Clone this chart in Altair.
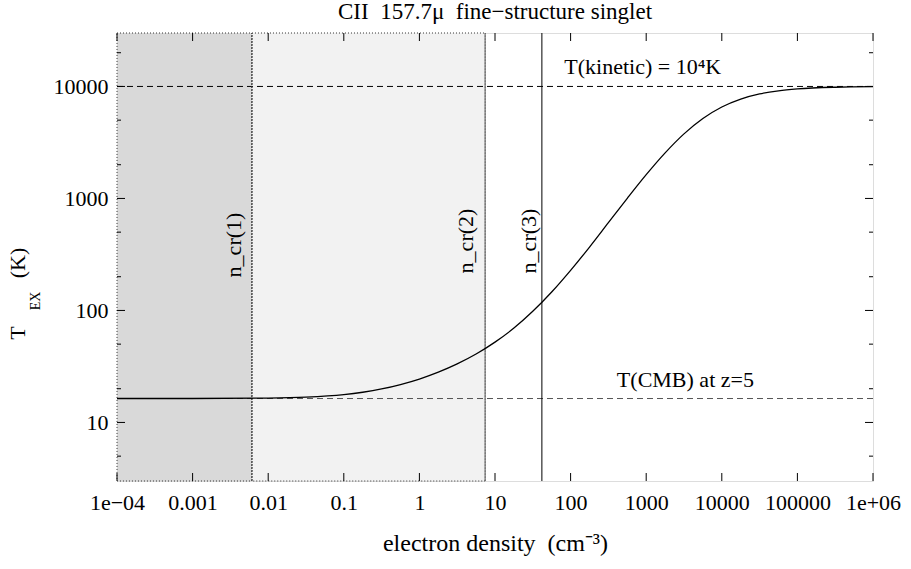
import altair as alt
import pandas as pd

# Electron density grid (cm^-3) and excitation temperature T_EX (K) of the CII 157.7 micron line
density = [1e-4, 1e-3, 1e-2, 0.0316, 0.1, 0.178, 0.316, 0.562, 1.0, 1.78, 3.16, 5.62,
           10.0, 17.8, 31.6, 56.2, 100.0, 178.0, 316.0, 562.0, 1000.0, 1780.0, 3160.0,
           5620.0, 1e4, 1.78e4, 3.16e4, 5.62e4, 1e5, 3.16e5, 1e6]
t_ex = [16.35, 16.36, 16.5, 16.8, 17.7, 18.6, 19.9, 21.8, 24.4, 28.1, 33.3, 40.8,
        52.1, 69.6, 98.2, 146.0, 228.0, 368.0, 607.0, 1002.0, 1629.0, 2551.0, 3772.0,
        5175.0, 6556.0, 7711.0, 8572.0, 9140.0, 9499.0, 9839.0, 9949.0]

# Critical densities
ncr_names = ["n_cr(1)", "n_cr(2)", "n_cr(3)"]
ncr_values = [0.0061, 7.4, 41.7]

# Reference temperatures
t_kinetic = 1e4
t_cmb = 16.35

x_domain = [1e-4, 1e6]
y_domain = [3, 30000]
x_major = [1e-4, 1e-3, 1e-2, 1e-1, 1, 10, 100, 1000, 1e4, 1e5, 1e6]
x_labels = ["1e\u221204", "0.001", "0.01", "0.1", "1", "10", "100", "1000",
            "10000", "100000", "1e+06"]
y_major = [10, 100, 1000, 10000]
y_minor = [5, 20, 50, 200, 500, 2000, 5000, 20000]

W, H = 756, 448
FONT = "Liberation Serif"

xs = alt.Scale(type="log", domain=x_domain, nice=False)
ys = alt.Scale(type="log", domain=y_domain, nice=False)

label_list = "[" + ",".join(f"'{l}'" for l in x_labels) + "]"
label_expr = f"{label_list}[round(log(datum.value) / LN10) + 4]"

curve_df = pd.DataFrame({"n": density, "t": t_ex})

# shaded density regimes
regions = pd.DataFrame({
    "x0": [x_domain[0], ncr_values[0]],
    "x1": [ncr_values[0], ncr_values[1]],
    "y0": [y_domain[0]] * 2,
    "y1": [y_domain[1]] * 2,
    "shade": ["#d9d9d9", "#f2f2f2"],
})
shading = alt.Chart(regions).mark_rect(stroke="#333333", strokeDash=[1, 2], strokeWidth=1).encode(
    x=alt.X("x0:Q", scale=xs, axis=alt.Axis(
        values=x_major, labelExpr=label_expr,
        ticks=False, domain=False, grid=False, labelFont=FONT, labelFontSize=22,
        labelColor="black", labelPadding=11, labelFlush=False, labelOverlap=False,
        title="electron density\u2002(cm\u207b\u00b3)", titleFont=FONT, titleFontSize=24,
        titleFontWeight="normal", titleColor="black", titlePadding=18)),
    x2="x1:Q",
    y=alt.Y("y0:Q", scale=ys, axis=alt.Axis(
        values=y_major, format="d", ticks=False, domain=False, grid=False,
        labelFont=FONT, labelFontSize=22, labelColor="black", labelPadding=9, title=None)),
    y2="y1:Q",
    fill=alt.Fill("shade:N", scale=None),
)

# horizontal reference levels
levels = pd.DataFrame({"t": [t_kinetic, t_cmb], "x0": x_domain[:1] * 2, "x1": x_domain[1:] * 2,
                       "c": ["black", "#555555"]})
level_rules = alt.Chart(levels).mark_rule(strokeDash=[6, 4], strokeWidth=1).encode(
    x=alt.X("x0:Q", scale=xs), x2="x1:Q", y=alt.Y("t:Q", scale=ys),
    color=alt.Color("c:N", scale=None))

ncr_df = pd.DataFrame({"n": ncr_values, "name": ncr_names,
                       "y0": [y_domain[0]] * 3, "y1": [y_domain[1]] * 3})
ncr_dotted = alt.Chart(ncr_df.iloc[:2]).mark_rule(color="#333333", strokeDash=[2, 1], strokeWidth=1).encode(
    x=alt.X("n:Q", scale=xs), y=alt.Y("y0:Q", scale=ys), y2="y1:Q")
ncr_solid = alt.Chart(ncr_df.iloc[2:]).mark_rule(color="black", strokeWidth=1).encode(
    x=alt.X("n:Q", scale=xs), y=alt.Y("y0:Q", scale=ys), y2="y1:Q")

ncr_text = [
    alt.Chart(ncr_df.iloc[[i]]).mark_text(angle=270, font=FONT, fontSize=22, baseline="bottom",
                                          align="center", dy=dy, dx=dx).encode(
        x=alt.X("n:Q", scale=xs), y=alt.value(212), text="name:N")
    for i, (dx, dy) in enumerate([(0, -6), (4, -7), (4, -1)])
]

line = alt.Chart(curve_df).mark_line(color="black", strokeWidth=1.3, interpolate="monotone").encode(
    x=alt.X("n:Q", scale=xs), y=alt.Y("t:Q", scale=ys))

# annotations
notes = pd.DataFrame({"n": [900.0, 3300.0], "t": [t_kinetic, t_cmb],
                      "label": ["T(kinetic) = 10\u2074K", "T(CMB) at z=5"]})
note_text = alt.Chart(notes).mark_text(font=FONT, fontSize=22, baseline="bottom", dy=-7).encode(
    x=alt.X("n:Q", scale=xs), y=alt.Y("t:Q", scale=ys), text="label:N")

# inward ticks on all four sides
xt = pd.DataFrame({"v": x_major})
x_ticks_bottom = alt.Chart(xt).mark_rule(color="black").encode(
    x=alt.X("v:Q", scale=xs), y=alt.value(H), y2=alt.value(H - 8))
x_ticks_top = alt.Chart(xt).mark_rule(color="black").encode(
    x=alt.X("v:Q", scale=xs), y=alt.value(0), y2=alt.value(8))
yt = pd.DataFrame({"v": y_major})
ym = pd.DataFrame({"v": y_minor})
y_ticks = [
    alt.Chart(yt).mark_rule(color="black").encode(y=alt.Y("v:Q", scale=ys), x=alt.value(0), x2=alt.value(8)),
    alt.Chart(yt).mark_rule(color="black").encode(y=alt.Y("v:Q", scale=ys), x=alt.value(W), x2=alt.value(W - 8)),
    alt.Chart(ym).mark_rule(color="black").encode(y=alt.Y("v:Q", scale=ys), x=alt.value(0), x2=alt.value(4)),
    alt.Chart(ym).mark_rule(color="black").encode(y=alt.Y("v:Q", scale=ys), x=alt.value(W), x2=alt.value(W - 4)),
]

# title and y-axis title (T with subscript EX)
title = alt.Chart(pd.DataFrame({"s": ["CII\u2002157.7\u03bc\u2002fine\u2212structure singlet"]})).mark_text(
    font=FONT, fontSize=23, baseline="alphabetic").encode(
    x=alt.value(W / 2), y=alt.value(-14), text="s:N")
ytitle = alt.Chart(pd.DataFrame({"s": ["T", "EX", "(K)"], "px": [-99, -81, -99],
                                 "py": [300, 268, 230], "fs": [22, 14, 22]})).mark_text(
    font=FONT, angle=270, baseline="middle").encode(
    x=alt.X("px:Q", scale=None), y=alt.Y("py:Q", scale=None), text="s:N",
    size=alt.Size("fs:Q", scale=None))

chart = alt.layer(
    shading, level_rules, ncr_dotted, ncr_solid, line, *ncr_text, note_text,
    x_ticks_bottom, x_ticks_top, *y_ticks, title, ytitle,
).properties(
    width=W, height=H,
    padding={"left": 117, "top": 33, "right": 38, "bottom": 88},
    autosize=alt.AutoSizeParams(type="none"),
).configure_view(stroke="black", strokeWidth=1.5).configure(background="white")

chart.save("out.html", embed_options={"renderer": "svg", "actions": False})
